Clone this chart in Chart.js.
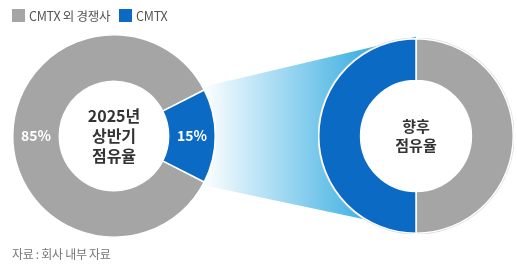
<!DOCTYPE html>
<html>
<head>
<meta charset="utf-8">
<script src="https://cdn.jsdelivr.net/npm/chart.js@4"></script>
<style>
  body { margin: 0; background: #fff; font-family: "Noto Sans CJK KR", "Noto Sans", sans-serif; }
  #wrap { position: relative; width: 517px; height: 265px; overflow: hidden; }
  canvas { position: absolute; }
  #bg { left: 0; top: 0; }
  #left { left: 12px; top: 34px; }
  #right { left: 318px; top: 38px; }
  .legend { position: absolute; left: 12px; top: 6px; font-size: 12.5px; color: #555; display: flex; align-items: center; letter-spacing: -0.3px; }
  .legend span.box { display: inline-block; width: 13px; height: 13px; margin-right: 4px; }
  .legend .item { display: flex; align-items: center; margin-right: 9px; }
  .source { position: absolute; left: 12px; top: 245px; font-size: 12px; color: #777; letter-spacing: -0.3px; }
</style>
</head>
<body>
<div id="wrap">
  <canvas id="bg" width="517" height="265"></canvas>
  <canvas id="left" width="204" height="204"></canvas>
  <canvas id="right" width="196" height="196"></canvas>
  <div class="legend">
    <div class="item"><span class="box" style="background:#a5a5a5"></span>CMTX 외 경쟁사</div>
    <div class="item"><span class="box" style="background:#0b6bc4"></span>CMTX</div>
  </div>
  <div class="source">자료 : 회사 내부 자료</div>
</div>
<script>
const categories = ['CMTX 외 경쟁사', 'CMTX'];
const firstHalf2025 = [85, 15];
const futureShare = [50, 50];
const colors = ['#a5a5a5', '#0b6bc4'];

// 가운데 흰 원 + 글자
const centerText = {
  id: 'centerText',
  beforeDatasetsDraw(chart) {
    const arc = chart.getDatasetMeta(0).data[0];
    const ctx = chart.ctx;
    ctx.save();
    ctx.beginPath();
    ctx.arc(arc.x, arc.y, arc.innerRadius, 0, Math.PI * 2);
    ctx.fillStyle = '#fff';
    ctx.fill();
    ctx.restore();
  },
  afterDraw(chart, args, opts) {
    const arc = chart.getDatasetMeta(0).data[0];
    const ctx = chart.ctx;
    ctx.save();
    ctx.fillStyle = '#333';
    ctx.font = 'bold ' + opts.size + 'px "Noto Sans CJK KR"';
    ctx.textAlign = 'center';
    ctx.textBaseline = 'middle';
    const lines = opts.lines;
    const lh = opts.size * 1.25;
    lines.forEach((t, i) => {
      ctx.fillText(t, arc.x, arc.y + (i - (lines.length - 1) / 2) * lh);
    });
    ctx.restore();
  }
};

// 퍼센트 라벨
const pctLabels = {
  id: 'pctLabels',
  afterDatasetsDraw(chart, args, opts) {
    if (!opts.show) return;
    const ctx = chart.ctx;
    const meta = chart.getDatasetMeta(0);
    ctx.save();
    ctx.fillStyle = '#fff';
    ctx.font = 'bold 14px "Noto Sans CJK KR"';
    ctx.textAlign = 'center';
    ctx.textBaseline = 'middle';
    meta.data.forEach((arc, i) => {
      const p = arc.tooltipPosition();
      ctx.fillText(chart.data.datasets[0].data[i] + '%', p.x, p.y);
    });
    ctx.restore();
  }
};

// 오른쪽 도넛 테두리
const ringOutline = {
  id: 'ringOutline',
  beforeDatasetsDraw(chart, args, opts) {
    if (!opts.show) return;
    const arc = chart.getDatasetMeta(0).data[0];
    const ctx = chart.ctx;
    ctx.save();
    ctx.beginPath();
    ctx.arc(arc.x, arc.y, arc.outerRadius + 0.5, 0, Math.PI * 2);
    ctx.strokeStyle = '#d6d6d6';
    ctx.lineWidth = 1.5;
    ctx.stroke();
    ctx.restore();
  }
};

function donut(id, values, rotation, cutout, lines, size, showPct, outline) {
  return new Chart(document.getElementById(id), {
    type: 'doughnut',
    data: {
      labels: categories,
      datasets: [{
        data: values,
        backgroundColor: colors,
        borderColor: '#fff',
        borderWidth: 1.5
      }]
    },
    options: {
      responsive: false,
      animation: false,
      rotation: rotation,
      cutout: cutout,
      plugins: {
        legend: { display: false },
        tooltip: { enabled: false },
        centerText: { lines: lines, size: size },
        pctLabels: { show: showPct },
        ringOutline: { show: outline }
      }
    },
    plugins: [centerText, pctLabels, ringOutline]
  });
}

const leftChart = donut('left', firstHalf2025, 117, '54%', ['2025년', '상반기', '점유율'], 16, true, false);
const rightChart = donut('right', futureShare, 0, '57%', ['향후', '점유율'], 15, false, true);

// 연결 그라데이션
function drawBridge() {
  const bg = document.getElementById('bg');
  const ctx = bg.getContext('2d');
  const lc = document.getElementById('left');
  const rc = document.getElementById('right');
  const a = leftChart.getDatasetMeta(0).data[1];
  const b = rightChart.getDatasetMeta(0).data[1];
  const lx = lc.offsetLeft, ly = lc.offsetTop;
  const rx = rc.offsetLeft, ry = rc.offsetTop;
  const R = a.outerRadius;
  const x1 = lx + a.x + R * Math.cos(a.startAngle) - 2;
  const y1 = ly + a.y + R * Math.sin(a.startAngle) - 3;
  const x2 = lx + a.x + R * Math.cos(a.endAngle) - 2;
  const y2 = ly + a.y + R * Math.sin(a.endAngle) + 3;
  const cx = rx + b.x, cy = ry + b.y, r2 = b.outerRadius;
  const grad = ctx.createLinearGradient(x1, 0, cx - r2 * 0.6, 0);
  grad.addColorStop(0, '#ffffff');
  grad.addColorStop(1, '#48b4e4');
  ctx.fillStyle = grad;
  ctx.beginPath();
  ctx.moveTo(x1, y1);
  ctx.lineTo(cx, cy - r2 * 1.02);
  ctx.lineTo(cx, cy + r2 * 0.97);
  ctx.lineTo(x2, y2);
  ctx.closePath();
  ctx.fill();
}
drawBridge();
</script>
</body>
</html>
